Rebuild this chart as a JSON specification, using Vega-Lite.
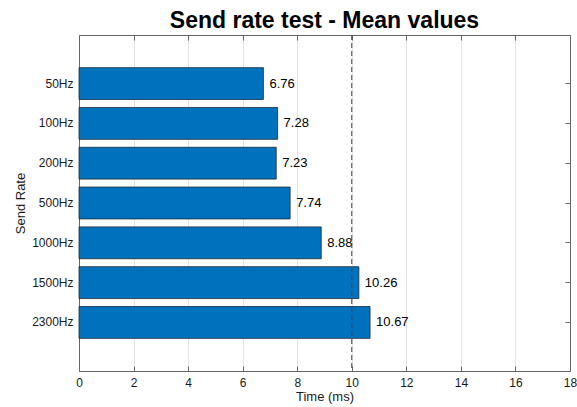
{
  "$schema": "https://vega.github.io/schema/vega-lite/v6.json",
  "autosize": "none",
  "width": 491,
  "height": 336,
  "padding": {"left": 79, "top": 35, "right": 7, "bottom": 36},
  "background": "white",
  "config": {
    "font": "Liberation Sans",
    "view": {"stroke": null},
    "axis": {"labelFont": "Liberation Sans", "titleFont": "Liberation Sans", "labelColor": "#1a1a1a", "titleColor": "#1a1a1a", "labelFontSize": 12, "titleFontSize": 13, "titleFontWeight": "normal", "domainColor": "#666666", "tickColor": "#666666", "labelFlush": false}
  },
  "title": {"text": "Send rate test - Mean values", "fontSize": 23, "fontWeight": "bold", "font": "Liberation Sans", "color": "#000000", "anchor": "middle", "offset": 2},
  "data": {"values": [
    {"rate": "50Hz", "time": 6.76},
    {"rate": "100Hz", "time": 7.28},
    {"rate": "200Hz", "time": 7.23},
    {"rate": "500Hz", "time": 7.74},
    {"rate": "1000Hz", "time": 8.88},
    {"rate": "1500Hz", "time": 10.26},
    {"rate": "2300Hz", "time": 10.67}
  ]},
  "layer": [
    {
      "layer": [
        {
          "mark": {"type": "bar", "fill": "#0072BD", "stroke": "#1a2a3a", "strokeWidth": 0.8},
          "encoding": {
            "y": {"field": "rate", "type": "nominal", "sort": null, "title": "Send Rate",
              "scale": {"paddingInner": 0.2, "paddingOuter": 0.82},
              "axis": {"tickSize": -5, "labelPadding": 11, "grid": false, "domainColor": "#666666", "titlePadding": 4}},
            "x": {"field": "time", "type": "quantitative", "title": "Time (ms)",
              "scale": {"domain": [0, 18], "nice": false},
              "axis": {"values": [0, 2, 4, 6, 8, 10, 12, 14, 16, 18], "tickSize": -5, "labelPadding": 11, "labelFlush": false, "grid": true, "gridColor": "#e3e3e3", "titlePadding": 2}}
          }
        },
        {
          "mark": {"type": "text", "align": "left", "baseline": "middle", "dx": 6, "fontSize": 13, "color": "#000000", "font": "Liberation Sans"},
          "encoding": {
            "y": {"field": "rate", "type": "nominal", "sort": null},
            "x": {"field": "time", "type": "quantitative"},
            "text": {"field": "time", "type": "quantitative", "format": ".2f"}
          }
        },
        {
          "data": {"values": [{"ref": 10}]},
          "mark": {"type": "rule", "color": "#404040", "strokeDash": [5, 3], "strokeWidth": 1},
          "encoding": {"x": {"field": "ref", "type": "quantitative"}}
        }
      ]
    },
    {
      "mark": {"type": "bar", "opacity": 0},
      "encoding": {
        "y": {"field": "rate", "type": "nominal", "sort": null,
          "scale": {"paddingInner": 0.2, "paddingOuter": 0.82},
          "axis": {"orient": "right", "labels": false, "title": null, "tickSize": -5, "domainColor": "#666666"}},
        "x": {"field": "time", "type": "quantitative",
          "scale": {"domain": [0, 18], "nice": false},
          "axis": {"orient": "top", "labels": false, "title": null, "values": [0, 2, 4, 6, 8, 10, 12, 14, 16, 18], "tickSize": -5, "grid": false}}
      }
    }
  ],
  "resolve": {"scale": {"x": "independent", "y": "independent"}, "axis": {"x": "independent", "y": "independent"}}
}
